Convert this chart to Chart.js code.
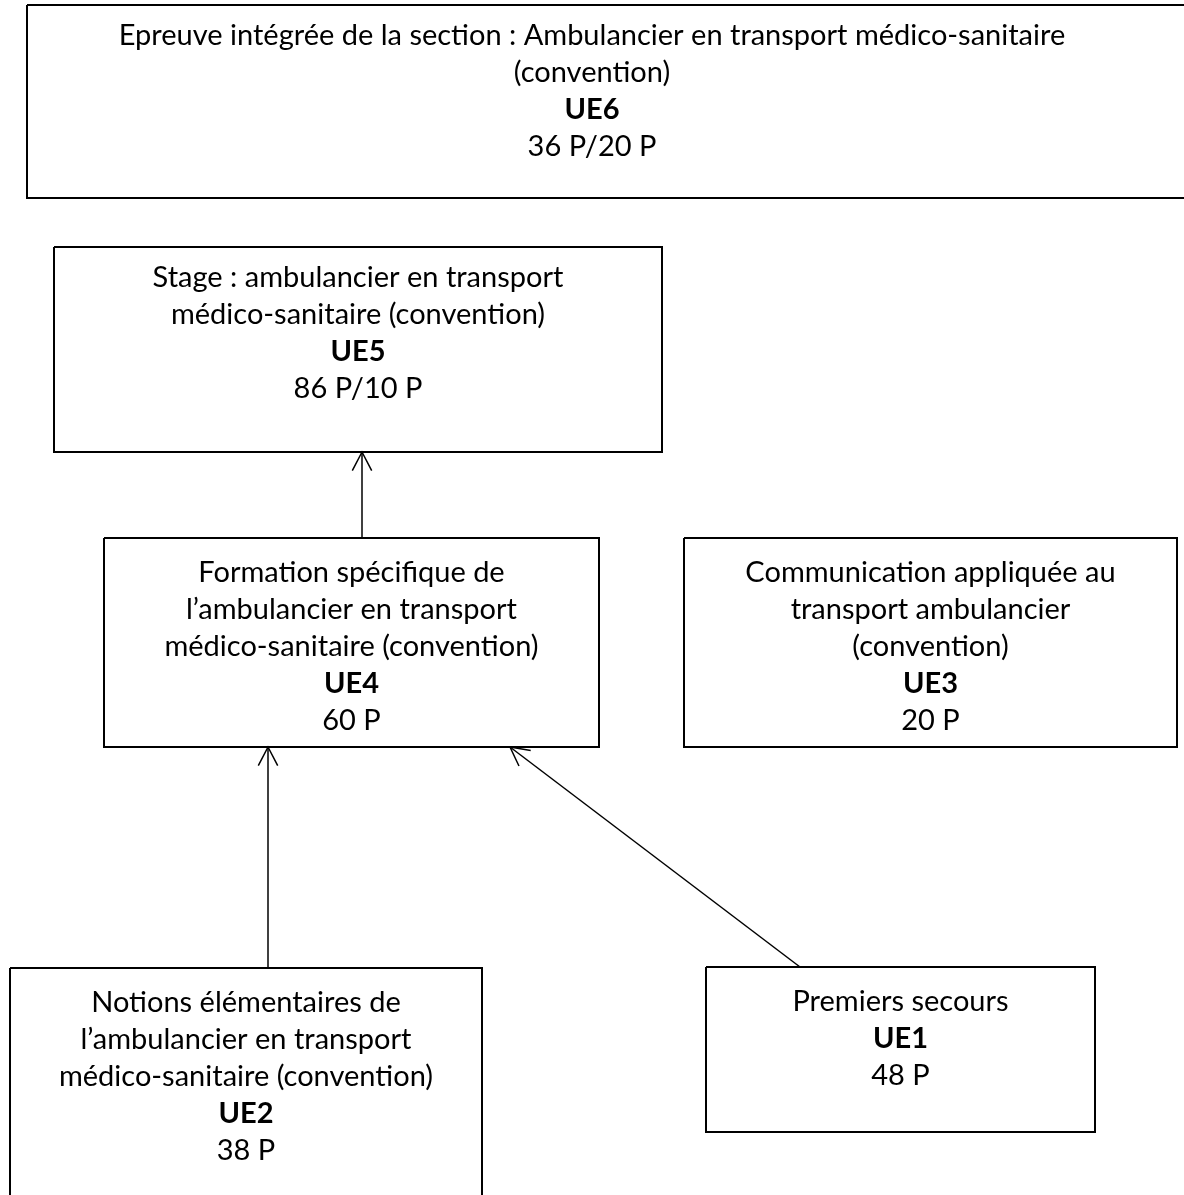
<!DOCTYPE html>
<html lang="fr">
<head>
<meta charset="utf-8">
<title>Unités d'enseignement - Ambulancier</title>
<script src="https://cdn.jsdelivr.net/npm/chart.js@4"></script>
<style>
  html, body { margin: 0; padding: 0; background: #fff; }
  #wrap { width: 1184px; height: 1195px; }
</style>
</head>
<body>
<div id="wrap"><canvas id="diagram"></canvas></div>
<script>
// units of the section, their titles and periods
const units = ['UE6', 'UE5', 'UE4', 'UE3', 'UE2', 'UE1'];
const titles = [
  ['Epreuve intégrée de la section : Ambulancier en transport médico-sanitaire', '(convention)'],
  ['Stage : ambulancier en transport', 'médico-sanitaire (convention)'],
  ['Formation spécifique de', 'l’ambulancier en transport', 'médico-sanitaire (convention)'],
  ['Communication appliquée au', 'transport ambulancier', '(convention)'],
  ['Notions élémentaires de', 'l’ambulancier en transport', 'médico-sanitaire (convention)'],
  ['Premiers secours']
];
const periods = ['36 P/20 P', '86 P/10 P', '60 P', '20 P', '38 P', '48 P'];
// prerequisite links: from -> to
const linkFrom = ['UE4', 'UE2', 'UE1'];
const linkTo = ['UE5', 'UE4', 'UE4'];

// layout of the diagram, in page pixels (x to the right, y downward)
const layout = {
  UE6: { x0: 27, y0: 5, x1: 1200, y1: 198, cx: 592, t: 36 },
  UE5: { x0: 54, y0: 247, x1: 662, y1: 452, t: 278 },
  UE4: { x0: 104, y0: 538, x1: 599, y1: 747, t: 573 },
  UE3: { x0: 684, y0: 538, x1: 1177, y1: 747, t: 573 },
  UE2: { x0: 10, y0: 968, x1: 482, y1: 1215, t: 1003 },
  UE1: { x0: 706, y0: 967, x1: 1095, y1: 1132, t: 1002 }
};
const lineStep = 37;
const linkStartX = [362, 268, 800];
const linkEndX = [362, 268, 510];

const FONT = 'Lato, "Open Sans", sans-serif';
const FONT_SIZE = 29;

const boxSets = units.map(u => {
  const b = layout[u];
  return {
    label: u,
    data: [
      { x: b.x0, y: b.y0 }, { x: b.x1, y: b.y0 }, { x: b.x1, y: b.y1 },
      { x: b.x0, y: b.y1 }, { x: b.x0, y: b.y0 }
    ],
    showLine: true,
    borderColor: '#000',
    borderWidth: 2,
    pointRadius: 0,
    tension: 0
  };
});

const linkSets = linkFrom.map((f, i) => ({
  label: f + '→' + linkTo[i],
  data: [
    { x: linkStartX[i], y: layout[f].y0 },
    { x: linkEndX[i], y: layout[linkTo[i]].y1 }
  ],
  showLine: true,
  borderColor: '#000',
  borderWidth: 1.5,
  pointRadius: 0,
  isLink: true
}));

// draws the arrow heads and the texts in each box
const boxText = {
  id: 'boxText',
  afterDatasetsDraw(chart) {
    const ctx = chart.ctx;
    const xs = chart.scales.x, ys = chart.scales.y;
    ctx.save();
    ctx.strokeStyle = '#000';
    ctx.lineWidth = 1.5;
    chart.data.datasets.forEach(ds => {
      if (!ds.isLink) return;
      const a = ds.data[0], b = ds.data[1];
      const ax = xs.getPixelForValue(a.x), ay = ys.getPixelForValue(a.y);
      const bx = xs.getPixelForValue(b.x), by = ys.getPixelForValue(b.y);
      const ang = Math.atan2(by - ay, bx - ax);
      const len = 21, spread = 0.48;
      ctx.beginPath();
      ctx.moveTo(bx - len * Math.cos(ang - spread), by - len * Math.sin(ang - spread));
      ctx.lineTo(bx, by);
      ctx.lineTo(bx - len * Math.cos(ang + spread), by - len * Math.sin(ang + spread));
      ctx.stroke();
    });

    ctx.fillStyle = '#000';
    ctx.textAlign = 'center';
    ctx.textBaseline = 'middle';
    units.forEach((u, i) => {
      const b = layout[u];
      const cx = xs.getPixelForValue(b.cx !== undefined ? b.cx : (b.x0 + b.x1) / 2);
      let y = ys.getPixelForValue(b.t);
      ctx.font = FONT_SIZE + 'px ' + FONT;
      titles[i].forEach(line => {
        ctx.fillText(line, cx, y);
        y += lineStep;
      });
      ctx.font = 'bold ' + FONT_SIZE + 'px ' + FONT;
      ctx.fillText(u, cx, y);
      y += lineStep;
      ctx.font = FONT_SIZE + 'px ' + FONT;
      ctx.fillText(periods[i], cx, y);
    });
    ctx.restore();
  }
};

new Chart(document.getElementById('diagram'), {
  type: 'scatter',
  data: { datasets: boxSets.concat(linkSets) },
  options: {
    responsive: true,
    maintainAspectRatio: false,
    animation: false,
    layout: { padding: 0 },
    plugins: { legend: { display: false }, tooltip: { enabled: false } },
    scales: {
      x: { type: 'linear', min: 0, max: 1184, display: false },
      y: { type: 'linear', min: 0, max: 1195, reverse: true, display: false }
    }
  },
  plugins: [boxText]
});
</script>
</body>
</html>
